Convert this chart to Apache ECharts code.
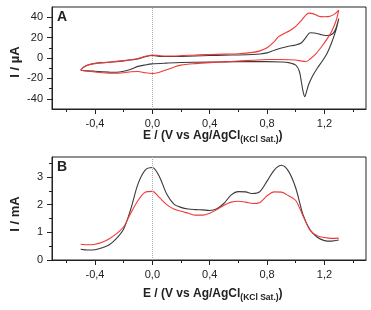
<!DOCTYPE html>
<html>
<head>
<meta charset="utf-8">
<script src="https://cdn.jsdelivr.net/npm/echarts@6/dist/echarts.min.js"></script>
<style>
  html, body { margin: 0; padding: 0; background: #fff; }
  #chart { width: 371px; height: 310px; }
</style>
</head>
<body>
<div id="chart"></div>
<script>
// Panel A: cyclic voltammograms (forward branch then return branch)
const cvBlackE = [-0.5, -0.48, -0.45, -0.4, -0.3, -0.2, -0.1, -0.05, 0.0, 0.05, 0.1, 0.2, 0.3, 0.4, 0.5, 0.6, 0.7, 0.75, 0.8, 0.85, 0.9, 0.95, 1.0, 1.04, 1.07, 1.1, 1.13, 1.17, 1.22, 1.26, 1.28, 1.3,
  1.28, 1.25, 1.22, 1.19, 1.15, 1.12, 1.09, 1.075, 1.063, 1.05, 1.04, 1.025, 1.0, 0.95, 0.9, 0.8, 0.6, 0.4, 0.2, 0.1, 0.0, -0.05, -0.1, -0.15, -0.2, -0.25, -0.3, -0.4, -0.45, -0.5];
const cvBlackI = [-12, -9, -6.8, -5.2, -4.2, -2.8, -1, 1.2, 2.4, 1.6, 1.4, 1.6, 2, 2.4, 2.8, 3, 3.4, 3.9, 5, 7.5, 9.8, 11.5, 12.8, 15, 20, 24.8, 24.5, 23.2, 22, 24, 29, 38.5,
  27, 15, 5, -2, -10, -17, -26, -33, -38, -32, -24, -13, -7, -4.5, -3.9, -3.6, -3.6, -4, -4.4, -5, -5.8, -6.8, -8.2, -11, -13, -14, -13.8, -13, -12.6, -12];
const cvRedE = [-0.5, -0.48, -0.45, -0.4, -0.35, -0.3, -0.2, -0.1, -0.05, 0.0, 0.05, 0.1, 0.2, 0.3, 0.4, 0.5, 0.6, 0.7, 0.75, 0.8, 0.85, 0.88, 0.92, 0.96, 1.0, 1.04, 1.07, 1.09, 1.12, 1.16, 1.2, 1.24, 1.27, 1.3,
  1.28, 1.25, 1.22, 1.18, 1.14, 1.1, 1.07, 1.04, 1.0, 0.9, 0.8, 0.7, 0.6, 0.5, 0.4, 0.3, 0.2, 0.15, 0.1, 0.05, 0.0, -0.05, -0.1, -0.15, -0.2, -0.27, -0.35, -0.4, -0.45, -0.5];
const cvRedI = [-12, -9, -7, -5.5, -4.6, -4, -2.6, -0.5, 1.6, 3, 2.3, 1.9, 2.3, 3, 3.4, 3.8, 4.2, 5.5, 7, 10, 16, 21, 24, 27, 31, 37, 42, 44, 43.5, 41, 40.5, 41, 43, 47,
  36, 26, 19, 11, 4, -1, -3.5, -3, -2, -1.4, -1.4, -2.2, -3, -3.8, -4.5, -5.5, -7, -9, -11.5, -14, -15.2, -14.5, -13.2, -13.5, -14.5, -15, -14.5, -13.8, -13, -12];

// Panel B: differential pulse voltammograms
const dpvE = [-0.5, -0.45, -0.4, -0.35, -0.3, -0.25, -0.2, -0.15, -0.1, -0.05, 0.0, 0.05, 0.1, 0.15, 0.2, 0.25, 0.3, 0.35, 0.4, 0.45, 0.5, 0.55, 0.6, 0.65, 0.7, 0.75, 0.8, 0.85, 0.9, 0.95, 1.0, 1.05, 1.1, 1.15, 1.2, 1.25, 1.3];
const dpvBlack = [0.39, 0.36, 0.37, 0.44, 0.55, 0.78, 1.12, 1.85, 2.75, 3.25, 3.34, 3.0, 2.38, 2.02, 1.9, 1.84, 1.82, 1.81, 1.79, 1.85, 2.05, 2.35, 2.47, 2.46, 2.4, 2.47, 2.85, 3.25, 3.42, 3.2, 2.6, 1.65, 1.09, 0.82, 0.7, 0.68, 0.72];
const dpvRed = [0.57, 0.55, 0.57, 0.64, 0.77, 0.95, 1.2, 1.7, 2.15, 2.45, 2.48, 2.25, 2.0, 1.84, 1.76, 1.69, 1.62, 1.62, 1.69, 1.82, 1.98, 2.09, 2.12, 2.09, 2.04, 2.08, 2.32, 2.46, 2.45, 2.32, 2.15, 1.6, 1.07, 0.88, 0.81, 0.78, 0.79];

const xMajor = [-0.4, 0, 0.4, 0.8, 1.2];
const xMinor = [-0.6, -0.2, 0.2, 0.6, 1.0, 1.4];
const yMajorA = [-40, -20, 0, 20, 40];
const yMinorA = [-30, -10, 10, 30];
const yMajorB = [0, 1, 2, 3];
const yMinorB = [0.5, 1.5, 2.5, 3.5];

const INK = '#222';
const BLACK = '#3a3a3a';
const RED = '#f03a3a';
const FONT = 'Liberation Sans, Arial, sans-serif';

const pairs = (xs, ys) => xs.map((x, i) => [x, ys[i]]);
const comma = (v) => v.toFixed(1).replace('.', ',').replace('-0,0', '0,0');

// every axis sits on the grid edge (left / bottom), never on zero
const xMain = (grid) => ({
  type: 'value', gridIndex: grid, position: 'bottom', min: -0.7, max: 1.49,
  axisLine: { onZero: false, lineStyle: { color: INK, width: 1 } },
  axisTick: { customValues: xMajor, length: 5, lineStyle: { color: INK } },
  axisLabel: { customValues: xMajor, formatter: comma, color: INK, fontSize: 11, fontFamily: FONT, margin: 9 },
  splitLine: { show: false },
});
const xSub = (grid) => ({
  type: 'value', gridIndex: grid, position: 'bottom', min: -0.7, max: 1.49,
  axisLine: { show: false, onZero: false },
  axisTick: { show: true, customValues: xMinor, length: 3, lineStyle: { color: INK } },
  axisLabel: { show: false },
  splitLine: { show: false },
});
const yMain = (grid, min, max, ticks) => ({
  type: 'value', gridIndex: grid, position: 'left', min: min, max: max,
  axisLine: { show: true, onZero: false, lineStyle: { color: INK, width: 1 } },
  axisTick: { show: true, customValues: ticks, length: 5, lineStyle: { color: INK } },
  axisLabel: { customValues: ticks, color: INK, fontSize: 11, fontFamily: FONT, margin: 9 },
  splitLine: { show: false },
});
const ySub = (grid, min, max, ticks) => ({
  type: 'value', gridIndex: grid, position: 'left', min: min, max: max,
  axisLine: { show: false, onZero: false },
  axisTick: { show: true, customValues: ticks, length: 3, lineStyle: { color: INK } },
  axisLabel: { show: false },
  splitLine: { show: false },
});

const zeroLine = {
  silent: true, symbol: 'none', label: { show: false },
  lineStyle: { type: 'dotted', color: '#aaa', width: 1 },
  data: [{ xAxis: 0 }],
};
const line = (name, data, color, xi, yi, extra) => Object.assign({
  name: name, type: 'line', data: data, xAxisIndex: xi, yAxisIndex: yi,
  showSymbol: false, smooth: 0.3, lineStyle: { color: color, width: 1.1 }, color: color,
}, extra || {});

const titleRich = {
  a: { fontSize: 12, fontWeight: 'bold', fontFamily: FONT, fill: INK, lineHeight: 14, verticalAlign: 'top' },
  b: { fontSize: 8.5, fontWeight: 'bold', fontFamily: FONT, fill: INK, lineHeight: 10, padding: [8, 0, 0, 0], verticalAlign: 'bottom' },
};
const xTitle = (y) => ({
  type: 'text', left: 143, top: y,
  style: { text: '{a|E / (V vs Ag/AgCl}{b|(KCl Sat.)}{a|)}', rich: titleRich },
});
const yTitle = (text, cy) => ({
  type: 'text', x: 15, y: cy, rotation: Math.PI / 2,
  style: { text: text, font: 'bold 13px ' + FONT, fill: INK, align: 'center', verticalAlign: 'middle' },
});
const panel = (text, y) => ({
  type: 'text', x: 57, y: y,
  style: { text: text, font: 'bold 14px ' + FONT, fill: INK },
});

const chart = echarts.init(document.getElementById('chart'), null, { renderer: 'canvas' });
chart.setOption({
  animation: false,
  backgroundColor: '#fff',
  grid: [
    { left: 52, top: 7, width: 314, height: 102, show: true, borderColor: INK, borderWidth: 1 },
    { left: 52, top: 157, width: 314, height: 103, show: true, borderColor: INK, borderWidth: 1 },
  ],
  xAxis: [xMain(0), xSub(0), xMain(1), xSub(1)],
  yAxis: [
    yMain(0, -50, 50, yMajorA), ySub(0, -50, 50, yMinorA),
    yMain(1, 0, 3.72, yMajorB), ySub(1, 0, 3.72, yMinorB),
  ],
  series: [
    line('CV black', pairs(cvBlackE, cvBlackI), BLACK, 0, 0, { markLine: zeroLine }),
    line('CV red', pairs(cvRedE, cvRedI), RED, 0, 0),
    line('DPV black', pairs(dpvE, dpvBlack), BLACK, 2, 2, { markLine: zeroLine }),
    line('DPV red', pairs(dpvE, dpvRed), RED, 2, 2),
  ],
  graphic: [
    panel('A', 10),
    panel('B', 160),
    yTitle('I / µA', 62),
    yTitle('I / mA', 214),
    xTitle(127),
    xTitle(285),
  ],
});
</script>
</body>
</html>
